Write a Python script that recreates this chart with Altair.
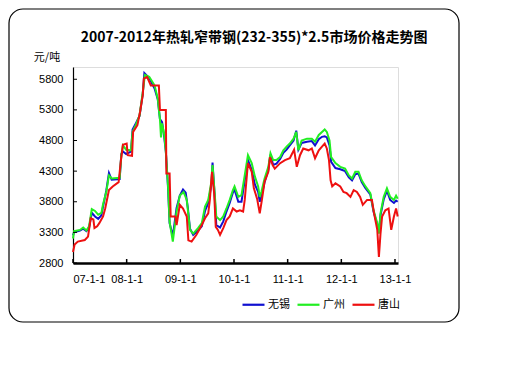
import altair as alt
import pandas as pd

# ---- data (fractional year, price) ----
wx_t = [2007.00,2007.02,2007.13,2007.19,2007.25,2007.30,2007.35,2007.41,2007.47,2007.53,2007.56,2007.62,2007.67,2007.72,2007.87,2007.90,2007.93,2007.99,2008.08,2008.11,2008.17,2008.24,2008.30,2008.33,2008.42,2008.52,2008.58,2008.62,2008.66,2008.70,2008.73,2008.77,2008.80,2008.86,2008.93,2008.99,2009.05,2009.10,2009.14,2009.18,2009.24,2009.33,2009.40,2009.46,2009.52,2009.58,2009.60,2009.64,2009.67,2009.74,2009.80,2009.86,2009.92,2009.98,2010.01,2010.08,2010.14,2010.20,2010.26,2010.33,2010.39,2010.45,2010.48,2010.51,2010.57,2010.64,2010.68,2010.73,2010.79,2010.86,2010.92,2010.98,2011.04,2011.11,2011.16,2011.20,2011.26,2011.36,2011.45,2011.51,2011.58,2011.64,2011.69,2011.73,2011.78,2011.81,2011.89,2011.98,2012.07,2012.14,2012.20,2012.26,2012.32,2012.38,2012.45,2012.54,2012.60,2012.67,2012.70,2012.73,2012.79,2012.85,2012.91,2012.98,2013.02,2013.05]
wx_v = [3250,3300,3330,3360,3320,3380,3620,3560,3520,3580,3720,3980,4270,4160,4170,4580,4620,4580,4620,4980,5080,5200,5560,5900,5820,5650,5470,5150,5100,4850,4620,4040,3450,3240,3700,3900,4000,3950,3700,3360,3260,3330,3400,3650,3780,4080,4440,3900,3420,3380,3480,3640,3780,3950,4000,3800,3800,4150,4480,4320,4080,3960,3800,3880,4120,4320,4570,4400,4420,4500,4600,4650,4720,4800,4960,4650,4760,4780,4790,4720,4820,4860,4870,4850,4720,4450,4350,4330,4300,4200,4150,4250,4260,4120,4020,3920,3640,3420,3300,3580,3840,3980,3830,3780,3820,3800]

gz_t = [2007.00,2007.02,2007.13,2007.19,2007.25,2007.30,2007.35,2007.41,2007.47,2007.53,2007.56,2007.62,2007.67,2007.72,2007.87,2007.90,2007.93,2007.99,2008.08,2008.11,2008.17,2008.24,2008.30,2008.34,2008.42,2008.52,2008.58,2008.62,2008.64,2008.66,2008.70,2008.73,2008.77,2008.80,2008.86,2008.93,2008.99,2009.06,2009.12,2009.18,2009.24,2009.33,2009.40,2009.46,2009.52,2009.58,2009.60,2009.64,2009.67,2009.74,2009.80,2009.86,2009.92,2009.98,2010.01,2010.08,2010.14,2010.20,2010.26,2010.33,2010.39,2010.45,2010.48,2010.51,2010.57,2010.64,2010.68,2010.73,2010.79,2010.86,2010.92,2010.98,2011.04,2011.11,2011.16,2011.20,2011.26,2011.36,2011.45,2011.51,2011.58,2011.64,2011.69,2011.73,2011.78,2011.81,2011.89,2011.98,2012.07,2012.14,2012.20,2012.26,2012.32,2012.38,2012.45,2012.54,2012.60,2012.67,2012.70,2012.73,2012.79,2012.85,2012.91,2012.98,2013.02,2013.05]
gz_v = [3200,3320,3340,3380,3330,3400,3680,3650,3590,3620,3760,3960,4230,4180,4190,4560,4720,4650,4640,4940,5050,5210,5590,5870,5840,5700,5480,5150,4850,5080,4900,4610,4070,3470,3150,3640,3900,3960,3830,3340,3280,3370,3450,3720,3830,4130,4400,3940,3560,3500,3560,3690,3830,3990,4050,3880,3910,4230,4560,4430,4210,4050,3880,3960,4180,4370,4590,4480,4480,4530,4640,4700,4750,4830,4940,4640,4800,4830,4830,4780,4890,4940,4980,4940,4800,4530,4430,4370,4340,4230,4180,4290,4290,4150,4050,3940,3660,3450,3280,3610,3880,4020,3880,3830,3900,3850]

ts_t = [2007.00,2007.03,2007.09,2007.22,2007.28,2007.33,2007.38,2007.40,2007.45,2007.49,2007.56,2007.60,2007.67,2007.74,2007.85,2007.89,2007.93,2008.00,2008.02,2008.10,2008.12,2008.20,2008.25,2008.30,2008.32,2008.38,2008.45,2008.60,2008.62,2008.73,2008.74,2008.80,2008.82,2008.91,2008.93,2008.99,2009.05,2009.12,2009.15,2009.21,2009.30,2009.40,2009.46,2009.52,2009.55,2009.59,2009.63,2009.66,2009.70,2009.74,2009.80,2009.86,2009.92,2009.98,2010.05,2010.11,2010.17,2010.20,2010.26,2010.33,2010.37,2010.43,2010.48,2010.52,2010.57,2010.64,2010.67,2010.72,2010.76,2010.86,2010.95,2011.04,2011.12,2011.17,2011.23,2011.29,2011.39,2011.45,2011.51,2011.58,2011.64,2011.69,2011.73,2011.77,2011.80,2011.83,2011.89,2011.98,2012.04,2012.10,2012.17,2012.23,2012.29,2012.35,2012.40,2012.48,2012.57,2012.61,2012.67,2012.70,2012.73,2012.76,2012.82,2012.88,2012.93,2012.98,2013.02,2013.05]
ts_v = [2980,3100,3150,3175,3230,3530,3510,3370,3400,3450,3560,3690,3990,4050,4120,4450,4730,4750,4560,4550,4940,5050,5270,5540,5810,5840,5700,5700,5300,5300,4260,4260,3560,3560,3420,3750,3690,3560,3170,3150,3260,3420,3530,3610,3830,4290,3940,3390,3340,3260,3370,3500,3560,3690,3640,3660,3640,3830,4430,4290,4020,3850,3610,3830,4130,4290,4530,4400,4340,4430,4480,4510,4650,4370,4560,4670,4640,4670,4510,4640,4700,4750,4670,4480,4150,4050,4100,4050,3960,3940,3880,3990,3960,3880,3750,3830,3830,3610,3340,2900,3280,3560,3660,3690,3340,3560,3690,3560]

series_names = ["无锡", "广州", "唐山"]
series_colors = ["#1010D0", "#22EE22", "#EE1010"]
year_ticks = [2007, 2008, 2009, 2010, 2011, 2012, 2013]
price_ticks = [2800, 3300, 3800, 4300, 4800, 5300, 5800]
title_text = "2007-2012年热轧窄带钢(232-355)*2.5市场价格走势图"
unit_text = "元/吨"

df = pd.concat([
    pd.DataFrame({"t": wx_t, "v": wx_v, "s": series_names[0], "o": 0}),
    pd.DataFrame({"t": gz_t, "v": gz_v, "s": series_names[1], "o": 1}),
    pd.DataFrame({"t": ts_t, "v": ts_v, "s": series_names[2], "o": 2}),
], ignore_index=True)

W, H = 325, 196
xscale = alt.Scale(domain=[2007, 2013.056], nice=False, zero=False)
yscale = alt.Scale(domain=[2800, 6000], nice=False, zero=False)

xaxis = alt.Axis(values=year_ticks, labelExpr="format(datum.value - 2000, '02d') + '-1-1'",
                 grid=False, ticks=False, domainColor="black", domainWidth=2.5,
                 labelFont="Liberation Sans", labelFontSize=11, labelColor="black",
                 labelPadding=10, title=None)
yaxis = alt.Axis(values=price_ticks, format="d", grid=False, ticks=False,
                 domainColor="black", domainWidth=1.2,
                 labelFont="Liberation Sans", labelFontSize=11, labelColor="black",
                 labelPadding=10, title=None)

frame = alt.Chart(pd.DataFrame({"a": [0]})).mark_rect(
    filled=False, stroke="black", strokeWidth=1.2, cornerRadius=14
).encode(x=alt.value(-64), x2=alt.value(386), y=alt.value(-58), y2=alt.value(255))

title = alt.Chart(pd.DataFrame({"txt": [title_text]})).mark_text(
    font="Noto Sans CJK SC", fontSize=14, fontWeight="bold", color="black",
    align="center", baseline="middle"
).encode(text="txt:N", x=alt.value(181), y=alt.value(-29))

unit = alt.Chart(pd.DataFrame({"txt": [unit_text]})).mark_text(
    font="Noto Sans CJK SC", fontSize=11, color="black", align="center", baseline="middle"
).encode(text="txt:N", x=alt.value(-26), y=alt.value(-9))

lines = alt.Chart(df).mark_line(strokeWidth=2, interpolate="linear").encode(
    x=alt.X("t:Q", scale=xscale, axis=xaxis),
    y=alt.Y("v:Q", scale=yscale, axis=yaxis),
    color=alt.Color("s:N", scale=alt.Scale(domain=series_names, range=series_colors),
                    legend=alt.Legend(orient="none", legendX=168, legendY=225,
                                      direction="horizontal", title=None,
                                      symbolType="stroke", symbolSize=484,
                                      symbolStrokeWidth=2.2, labelFont="Noto Sans CJK SC",
                                      labelFontSize=11, labelColor="black",
                                      labelOffset=2, columnPadding=3, padding=0)),
    order=alt.Order("o:Q"),
    detail="s:N",
)

yt = alt.Chart(pd.DataFrame({"v": price_ticks})).mark_rule(color="black", strokeWidth=1).encode(
    y=alt.Y("v:Q", scale=yscale, axis=yaxis), x=alt.value(0), x2=alt.value(4))
xt = alt.Chart(pd.DataFrame({"t": year_ticks})).mark_rule(color="black", strokeWidth=1.5).encode(
    x=alt.X("t:Q", scale=xscale, axis=xaxis), y=alt.value(H - 4), y2=alt.value(H))

chart = alt.layer(frame, title, unit, lines, yt, xt).properties(
    width=W, height=H,
    autosize=alt.AutoSizeParams(type="none"),
    padding={"left": 65, "top": 59, "right": 80, "bottom": 80},
).configure_view(stroke=None).configure(background="white")

chart.save("out.html", embed_options={"renderer": "svg", "actions": False})
